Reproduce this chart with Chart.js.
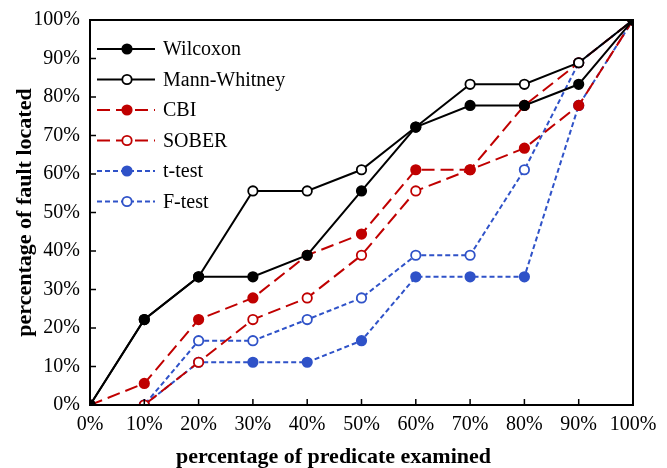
<!DOCTYPE html>
<html>
<head>
<meta charset="utf-8">
<script src="https://cdn.jsdelivr.net/npm/chart.js@4.4.0/dist/chart.umd.min.js"></script>
<style>
  html, body { margin: 0; padding: 0; background: #fff; }
  #wrap { width: 667px; height: 468px; }
</style>
</head>
<body>
<div id="wrap"><canvas id="faultChart" width="667" height="468"></canvas></div>
<script>
// percentage of predicate examined (x)
var xvalues = [0, 10, 20, 30, 40, 50, 60, 70, 80, 90, 100];

// percentage of fault located (y), one list per method
var wilcoxon    = [0, 22.2, 33.3, 33.3, 38.9, 55.6, 72.2, 77.8, 77.8, 83.3, 100];
var mannWhitney = [0, 22.2, 33.3, 55.6, 55.6, 61.1, 72.2, 83.3, 83.3, 88.9, 100];
var cbi         = [0, 5.6, 22.2, 27.8, 38.9, 44.4, 61.1, 61.1, 66.7, 77.8, 100];
var sober       = [0, 0, 11.1, 22.2, 27.8, 38.9, 55.6, 61.1, 77.8, 88.9, 100];
var ttest       = [0, 0, 11.1, 11.1, 11.1, 16.7, 33.3, 33.3, 33.3, 77.8, 100];
var ftest       = [0, 0, 16.7, 16.7, 22.2, 27.8, 38.9, 38.9, 61.1, 88.9, 100];

var seriesNames = ["Wilcoxon", "Mann-Whitney", "CBI", "SOBER", "t-test", "F-test"];
var xTitle = "percentage of predicate examined";
var yTitle = "percentage of fault located";

var BLACK = "#000000";
var RED = "#c00000";
var BLUE = "#2f52c8";
var FONT = "'Liberation Serif', 'Times New Roman', serif";

function pts(arr) {
  return arr.map(function (v, i) { return { x: xvalues[i], y: v }; });
}

function makeSet(name, arr, color, dash, filled) {
  return {
    label: name,
    data: pts(arr),
    borderColor: color,
    backgroundColor: filled ? color : "#ffffff",
    pointBackgroundColor: filled ? color : "#ffffff",
    pointBorderColor: color,
    pointBorderWidth: 1.8,
    pointRadius: 4.7,
    borderWidth: 2,
    borderDash: dash,
    fill: false,
    tension: 0
  };
}

// frame, inward ticks, x title and legend
var framePlugin = {
  id: "frame",
  afterDraw: function (chart) {
    var c = chart.ctx, a = chart.chartArea;
    var xs = chart.scales.x, ys = chart.scales.y;
    c.save();
    c.strokeStyle = "#000";
    c.lineWidth = 2;
    c.setLineDash([]);
    c.strokeRect(a.left, a.top, a.right - a.left, a.bottom - a.top);
    c.lineWidth = 1.5;
    c.beginPath();
    xvalues.forEach(function (v) {
      var px = xs.getPixelForValue(v);
      c.moveTo(px, a.bottom); c.lineTo(px, a.bottom - 6);
    });
    for (var t = 0; t <= 100; t += 10) {
      var py = ys.getPixelForValue(t);
      c.moveTo(a.left, py); c.lineTo(a.left + 6, py);
    }
    c.stroke();

    // x title, centred on the whole figure
    c.fillStyle = "#000";
    c.font = "bold 22px " + FONT;
    c.textAlign = "center";
    c.textBaseline = "alphabetic";
    c.fillText(xTitle, chart.width / 2, 463);

    // legend
    c.textAlign = "left";
    var lx = a.left + 7, ly = a.top + 29, step = 30.5;
    chart.data.datasets.forEach(function (ds, i) {
      var y = ly + i * step;
      c.strokeStyle = ds.borderColor;
      c.lineWidth = 2;
      c.setLineDash(ds.borderDash || []);
      c.beginPath();
      c.moveTo(lx, y); c.lineTo(lx + 58, y);
      c.stroke();
      c.setLineDash([]);
      c.beginPath();
      c.arc(lx + 30, y, 4.7, 0, Math.PI * 2);
      c.fillStyle = ds.pointBackgroundColor;
      c.fill();
      c.lineWidth = 1.8;
      c.strokeStyle = ds.pointBorderColor;
      c.stroke();
      c.fillStyle = "#000";
      c.font = "20px " + FONT;
      c.textBaseline = "middle";
      c.fillText(ds.label, lx + 66, y + 1);
    });
    c.restore();
  }
};

var ctx = document.getElementById("faultChart").getContext("2d");
var faultChart = new Chart(ctx, {
  type: "line",
  data: {
    datasets: [
      makeSet(seriesNames[0], wilcoxon, BLACK, [], true),
      makeSet(seriesNames[1], mannWhitney, BLACK, [], false),
      makeSet(seriesNames[2], cbi, RED, [13, 6], true),
      makeSet(seriesNames[3], sober, RED, [13, 6], false),
      makeSet(seriesNames[4], ttest, BLUE, [5, 3], true),
      makeSet(seriesNames[5], ftest, BLUE, [5, 3], false)
    ]
  },
  options: {
    responsive: false,
    animation: false,
    layout: { padding: { top: 20, right: 34, left: 0, bottom: 0 } },
    plugins: {
      legend: { display: false },
      tooltip: { enabled: false }
    },
    scales: {
      x: {
        type: "linear",
        min: 0, max: 100,
        afterBuildTicks: function (s) { s.ticks = xvalues.map(function (v) { return { value: v }; }); },
        afterFit: function (s) { s.height = 63; },
        grid: { display: false },
        border: { display: false },
        ticks: {
          color: "#000",
          padding: 0,
          maxRotation: 0,
          font: { family: FONT, size: 20 },
          callback: function (v) { return v + "%"; }
        },
        title: { display: false }
      },
      y: {
        min: 0, max: 100,
        afterFit: function (s) { s.width = 90; },
        grid: { display: false },
        border: { display: false },
        ticks: {
          stepSize: 10,
          color: "#000",
          padding: 2,
          font: { family: FONT, size: 20 },
          callback: function (v) { return v + "%"; }
        },
        title: {
          display: true,
          text: yTitle,
          color: "#000",
          padding: { top: 12, bottom: 0 },
          font: { family: FONT, size: 22, weight: "bold" }
        }
      }
    }
  },
  plugins: [framePlugin]
});
</script>
</body>
</html>
